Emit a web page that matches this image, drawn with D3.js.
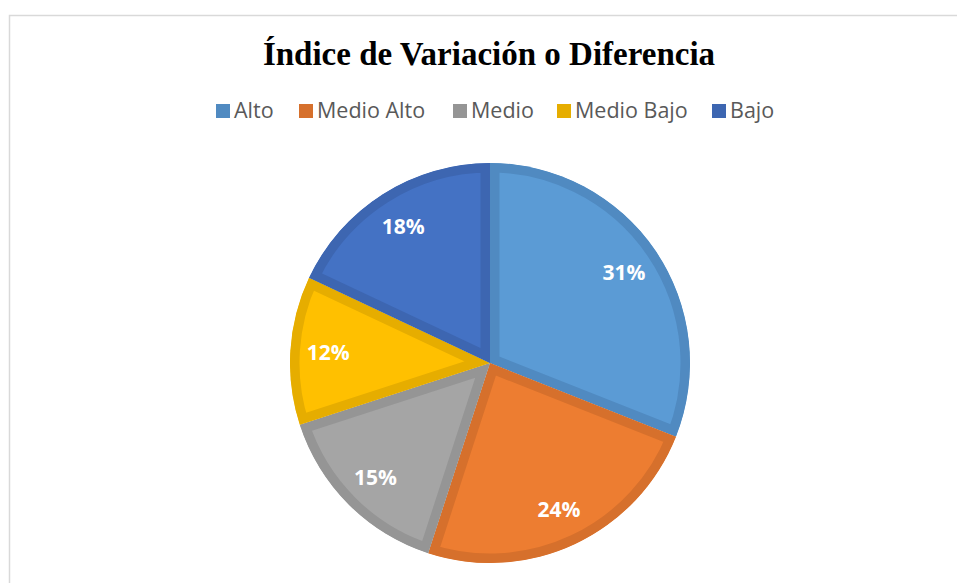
<!DOCTYPE html>
<html>
<head>
<meta charset="utf-8">
<script src="https://cdn.jsdelivr.net/npm/d3@7"></script>
<style>
  body { margin: 0; background: #fff; }
  svg { display: block; }
</style>
</head>
<body>
<svg width="957" height="583"></svg>
<script>
const categories = ["Alto", "Medio Alto", "Medio", "Medio Bajo", "Bajo"];
const values = [31, 24, 15, 12, 18];
const fills = ["#5B9BD5", "#ED7D31", "#A5A5A5", "#FFC000", "#4472C4"];
const borders = ["#508AC1", "#D6702C", "#959595", "#E6AD00", "#3D66B1"];
const title = "Índice de Variación o Diferencia";

const svg = d3.select("svg");
const cx = 490, cy = 363, r = 200;

// marco del gráfico
svg.append("rect")
  .attr("x", 9.5).attr("y", 15.5)
  .attr("width", 960).attr("height", 600)
  .attr("fill", "none")
  .attr("stroke", "#D9D9D9")
  .attr("stroke-width", 1.5);

// título
svg.append("text")
  .attr("x", 489).attr("y", 65)
  .attr("text-anchor", "middle")
  .attr("font-family", "'Liberation Serif', 'Times New Roman', serif")
  .attr("font-weight", "bold")
  .attr("font-size", 33)
  .attr("fill", "#000")
  .text(title);

// leyenda
const legendX = [216, 299, 453, 557, 712];
const legend = svg.append("g");
categories.forEach((c, i) => {
  const g = legend.append("g").attr("transform", `translate(${legendX[i]},104)`);
  g.append("rect")
    .attr("width", 14).attr("height", 14)
    .attr("fill", borders[i]);
  g.append("text")
    .attr("x", 18).attr("y", 14)
    .attr("font-family", "'Open Sans', sans-serif")
    .attr("font-size", 21.5)
    .attr("fill", "#595959")
    .text(c);
});

// pastel
const pie = d3.pie().sort(null).value(d => d)(values);
const arc = d3.arc().innerRadius(0).outerRadius(r);
const labelArc = d3.arc().innerRadius(162).outerRadius(162);

const gPie = svg.append("g").attr("transform", `translate(${cx},${cy})`);
const defs = svg.append("defs");

pie.forEach((d, i) => {
  defs.append("clipPath").attr("id", "clip" + i)
    .append("path").attr("d", arc(d));
  gPie.append("path")
    .attr("d", arc(d))
    .attr("fill", fills[i])
    .attr("stroke", borders[i])
    .attr("stroke-width", 19)
    .attr("stroke-linejoin", "miter")
    .attr("clip-path", `url(#clip${i})`);
});

gPie.selectAll("text.lbl")
  .data(pie)
  .enter()
  .append("text")
  .attr("class", "lbl")
  .attr("transform", d => `translate(${labelArc.centroid(d)})`)
  .attr("text-anchor", "middle")
  .attr("dy", "0.36em")
  .attr("font-family", "'Open Sans', sans-serif")
  .attr("font-weight", "bold")
  .attr("font-size", 21)
  .attr("fill", "#fff")
  .text(d => d.data + "%");
</script>
</body>
</html>
